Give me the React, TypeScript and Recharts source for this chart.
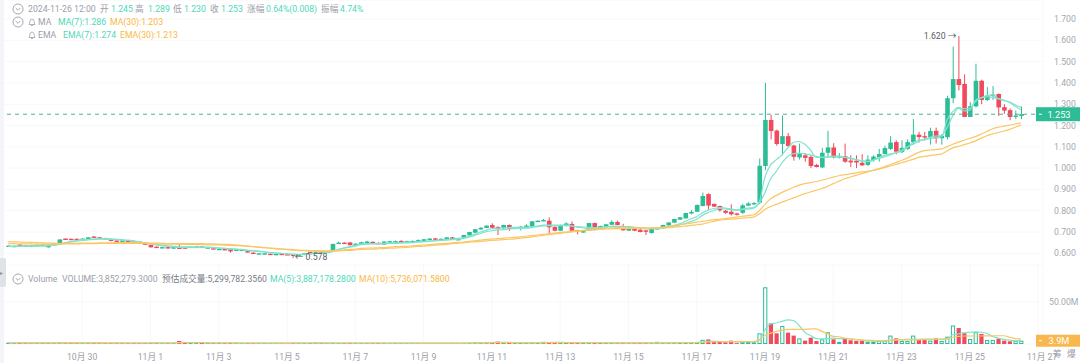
import React from 'react';
import { Bar, CartesianGrid, ComposedChart, Line, ReferenceDot, ReferenceLine, XAxis, YAxis } from 'recharts';

const FONT = "Roboto, 'Noto Sans CJK SC', sans-serif";
const FONT_SIZE = 8.7;
const GREEN = '#2dbd96';
const RED = '#f04a5d';
const TEAL_LINE = '#7fe3cd';
const ORANGE_LINE = '#fbc665';
const TEAL_TEXT = '#4fd8b8';
const ORANGE_TEXT = '#fbb73f';
const GREY_TEXT = '#9aa0a8';
const GRID = '#f7f8fa';

// 4h candles, one row of ten per line
const opens = [
  .633,.634,.641,.637,.630,.636,.641,.628,.640,.648,
  .669,.668,.668,.667,.667,.679,.675,.672,.667,.660,
  .658,.660,.657,.652,.646,.640,.631,.626,.629,.622,
  .627,.628,.627,.630,.632,.626,.624,.619,.620,.619,
  .611,.613,.610,.603,.598,.597,.598,.595,.598,.596,
  .594,.591,.592,.607,.600,.608,.604,.610,.644,.650,
  .651,.638,.641,.650,.654,.649,.641,.652,.652,.658,
  .652,.652,.656,.655,.664,.670,.664,.664,.675,.663,
  .673,.684,.697,.712,.719,.733,.724,.717,.733,.716,
  .723,.719,.725,.750,.753,.753,.724,.706,.730,.738,
  .709,.700,.706,.742,.712,.725,.734,.747,.725,.706,
  .720,.711,.708,.695,.712,.722,.731,.744,.758,.764,
  .787,.795,.822,.878,.832,.822,.800,.795,.787,.790,
  .824,.830,.838,1.01,1.226,1.176,1.113,1.15,1.106,1.05,
  1.06,1.053,1.015,1.003,1.072,1.097,1.05,1.056,1.035,1.035,
  1.025,1.015,1.038,1.05,1.066,1.09,1.122,1.075,1.09,1.122,
  1.157,1.15,1.145,1.175,1.14,1.145,1.328,1.418,1.395,1.24,
  1.29,1.41,1.32,1.34,1.348,1.286,1.272,1.243,1.245,
];
const closes = [
  .636,.635,.637,.631,.637,.640,.635,.640,.648,.665,
  .666,.665,.667,.669,.675,.675,.672,.667,.658,.657,
  .660,.657,.651,.646,.640,.628,.627,.629,.623,.631,
  .621,.624,.631,.632,.630,.628,.620,.621,.617,.609,
  .618,.617,.604,.600,.600,.600,.594,.597,.596,.594,
  .591,.593,.601,.603,.607,.604,.610,.644,.650,.648,
  .638,.645,.652,.655,.650,.646,.655,.657,.657,.652,
  .657,.658,.662,.666,.669,.664,.668,.675,.664,.667,
  .686,.700,.713,.720,.730,.720,.716,.733,.716,.722,
  .725,.730,.750,.753,.756,.722,.706,.733,.740,.706,
  .702,.704,.742,.710,.728,.736,.747,.733,.708,.720,
  .706,.700,.701,.717,.722,.733,.745,.761,.769,.789,
  .794,.827,.869,.824,.819,.802,.79,.783,.784,.825,
  .834,.836,1.011,1.226,1.174,1.113,1.15,1.104,1.053,1.068,
  1.048,1.01,1.005,1.072,1.097,1.05,1.056,1.03,1.027,1.026,
  1.013,1.04,1.054,1.066,1.094,1.12,1.077,1.095,1.122,1.157,
  1.146,1.148,1.174,1.14,1.152,1.328,1.418,1.39,1.24,1.29,
  1.41,1.32,1.34,1.345,1.285,1.27,1.24,1.247,1.253,
];
const highs = [
  .638,.637,.642,.638,.638,.641,.642,.641,.650,.666,
  .670,.669,.670,.671,.676,.680,.677,.673,.668,.661,
  .662,.661,.658,.653,.647,.641,.632,.631,.630,.632,
  .647,.630,.632,.634,.634,.630,.625,.623,.621,.621,
  .619,.618,.611,.605,.601,.601,.599,.598,.599,.597,
  .596,.595,.602,.608,.608,.609,.611,.645,.655,.652,
  .652,.648,.654,.659,.655,.651,.657,.659,.660,.662,
  .659,.660,.665,.667,.671,.672,.670,.676,.676,.669,
  .687,.701,.714,.723,.731,.741,.726,.734,.735,.724,
  .729,.736,.751,.755,.761,.769,.727,.735,.745,.749,
  .711,.707,.743,.744,.730,.737,.755,.753,.738,.722,
  .722,.713,.709,.718,.724,.734,.746,.762,.771,.790,
  .803,.829,.885,.882,.834,.824,.803,.83,.79,.832,
  .84,.84,1.045,1.4,1.25,1.18,1.247,1.165,1.11,1.115,
  1.07,1.06,1.02,1.095,1.175,1.117,1.07,1.115,1.06,1.06,
  1.065,1.06,1.06,1.09,1.105,1.15,1.13,1.13,1.135,1.23,
  1.17,1.17,1.19,1.19,1.16,1.34,1.57,1.62,1.44,1.31,
  1.49,1.415,1.38,1.385,1.35,1.3,1.28,1.27,1.289,
];
const lows = [
  .632,.632,.635,.630,.629,.635,.634,.627,.639,.647,
  .664,.664,.665,.666,.666,.674,.671,.665,.656,.655,
  .657,.655,.650,.645,.639,.627,.626,.625,.622,.621,
  .620,.623,.626,.629,.629,.625,.619,.618,.616,.603,
  .610,.612,.603,.598,.597,.596,.593,.594,.595,.593,
  .578,.588,.591,.602,.599,.603,.603,.609,.643,.646,
  .637,.637,.640,.649,.648,.644,.640,.651,.650,.648,
  .651,.651,.654,.654,.662,.663,.663,.663,.663,.662,
  .672,.683,.696,.711,.718,.719,.686,.716,.705,.714,
  .707,.718,.724,.749,.752,.691,.703,.705,.725,.701,
  .689,.696,.705,.708,.711,.724,.733,.732,.706,.705,
  .704,.698,.686,.693,.711,.721,.730,.743,.757,.763,
  .783,.794,.821,.803,.818,.795,.785,.777,.777,.785,
  .822,.828,.83,.99,1.135,1.105,1.06,1.10,1.035,1.04,
  1.03,1.00,1.003,1.0,1.05,1.045,1.045,1.025,1.005,1.0,
  1.01,1.01,1.03,1.03,1.065,1.085,1.065,1.07,1.085,1.11,
  1.12,1.13,1.11,1.115,1.11,1.135,1.305,1.365,1.24,1.24,
  1.285,1.30,1.315,1.32,1.245,1.255,1.225,1.23,1.23,
];
const ma7 = [
  .633,.633,.634,.634,.634,.635,.635,.636,.638,.642,
  .649,.655,.660,.664,.666,.667,.669,.669,.668,.666,
  .664,.662,.659,.655,.650,.645,.640,.636,.633,.630,
  .628,.628,.628,.628,.629,.628,.627,.625,.623,.621,
  .619,.617,.614,.611,.609,.606,.603,.601,.599,.597,
  .595,.594,.595,.597,.599,.601,.604,.611,.618,.625,
  .631,.637,.644,.645,.645,.646,.647,.648,.649,.650,
  .651,.652,.654,.656,.658,.660,.662,.665,.667,.670,
  .673,.680,.690,.700,.708,.716,.718,.720,.721,.722,
  .722,.722,.724,.728,.732,.733,.733,.733,.732,.729,
  .723,.720,.718,.716,.718,.722,.727,.727,.726,.725,
  .722,.719,.715,.716,.717,.720,.725,.731,.738,.750,
  .762,.772,.790,.803,.810,.815,.812,.808,.804,.808,
  .812,.815,.842,.959,1.015,1.04,1.062,1.095,1.12,1.125,
  1.112,1.085,1.05,1.05,1.053,1.056,1.056,1.052,1.047,1.04,
  1.034,1.03,1.038,1.05,1.06,1.067,1.072,1.078,1.095,1.12,
  1.13,1.134,1.138,1.142,1.146,1.226,1.265,1.285,1.278,1.28,
  1.312,1.33,1.34,1.344,1.325,1.318,1.31,1.296,1.286,
];
const ema7 = [
  .633,.633,.633,.634,.634,.634,.635,.636,.638,.643,
  .648,.653,.657,.660,.663,.665,.666,.666,.665,.664,
  .662,.660,.657,.653,.649,.645,.641,.638,.635,.633,
  .631,.630,.630,.629,.629,.628,.627,.625,.623,.621,
  .620,.618,.615,.612,.610,.607,.605,.602,.600,.598,
  .596,.595,.596,.597,.599,.600,.602,.608,.618,.624,
  .629,.634,.641,.643,.644,.644,.645,.646,.647,.648,
  .649,.650,.652,.654,.656,.658,.660,.662,.664,.666,
  .670,.676,.684,.693,.701,.706,.709,.711,.714,.716,
  .717,.718,.721,.725,.729,.730,.729,.730,.731,.728,
  .725,.723,.722,.721,.722,.724,.726,.727,.725,.724,
  .722,.720,.717,.716,.716,.718,.722,.727,.733,.740,
  .749,.760,.778,.791,.800,.811,.808,.805,.802,.805,
  .808,.812,.835,.885,.95,.985,1.025,1.055,1.068,1.07,
  1.067,1.062,1.055,1.05,1.052,1.053,1.052,1.05,1.045,1.04,
  1.034,1.032,1.036,1.045,1.053,1.062,1.073,1.085,1.1,1.112,
  1.125,1.135,1.145,1.15,1.152,1.19,1.245,1.28,1.268,1.272,
  1.318,1.33,1.334,1.332,1.326,1.318,1.308,1.29,1.274,
];
const ma30 = [
  .655,.654,.653,.652,.651,.650,.649,.648,.647,.647,
  .647,.647,.647,.648,.648,.648,.649,.649,.649,.650,
  .650,.650,.650,.650,.649,.648,.648,.647,.646,.645,
  .645,.645,.645,.645,.645,.644,.644,.643,.642,.641,
  .639,.637,.635,.632,.629,.626,.624,.621,.619,.617,
  .615,.613,.612,.611,.610,.609,.609,.610,.611,.613,
  .614,.616,.618,.619,.620,.621,.622,.624,.625,.626,
  .628,.630,.632,.634,.636,.638,.640,.642,.645,.647,
  .650,.652,.654,.656,.658,.660,.662,.664,.666,.668,
  .671,.674,.677,.681,.684,.688,.691,.694,.697,.700,
  .703,.706,.708,.710,.712,.714,.715,.716,.716,.717,
  .717,.717,.717,.718,.718,.719,.721,.723,.725,.728,
  .731,.734,.737,.744,.750,.756,.758,.760,.762,.765,
  .767,.770,.785,.806,.82,.83,.84,.85,.86,.87,
  .88,.888,.896,.904,.915,.927,.938,.95,.958,.966,
  .974,.982,.989,.995,1.002,1.01,1.017,1.025,1.033,1.041,
  1.05,1.055,1.059,1.062,1.066,1.08,1.095,1.102,1.11,1.118,
  1.128,1.14,1.152,1.16,1.167,1.174,1.182,1.192,1.203,
];
const ema30 = [
  .645,.645,.644,.644,.644,.643,.643,.643,.643,.643,
  .644,.644,.644,.645,.645,.645,.646,.646,.646,.646,
  .647,.646,.646,.646,.645,.645,.644,.644,.643,.643,
  .642,.642,.642,.641,.641,.640,.640,.639,.638,.637,
  .636,.635,.633,.631,.629,.627,.625,.623,.621,.619,
  .617,.615,.614,.613,.613,.612,.612,.613,.614,.616,
  .618,.620,.623,.624,.625,.626,.627,.629,.631,.632,
  .633,.635,.637,.639,.641,.643,.645,.647,.649,.651,
  .653,.656,.659,.662,.665,.667,.669,.671,.673,.675,
  .677,.680,.683,.686,.689,.692,.695,.698,.700,.703,
  .706,.708,.711,.714,.716,.718,.720,.721,.721,.721,
  .720,.720,.720,.720,.721,.723,.725,.730,.734,.738,
  .742,.746,.750,.754,.758,.760,.763,.766,.770,.774,
  .777,.78,.80,.83,.856,.872,.886,.898,.91,.92,
  .927,.932,.937,.943,.95,.958,.964,.969,.973,.978,
  .982,.985,.99,.998,1.006,1.016,1.026,1.036,1.047,1.061,
  1.074,1.082,1.085,1.087,1.09,1.101,1.112,1.122,1.131,1.14,
  1.148,1.16,1.172,1.185,1.192,1.197,1.202,1.207,1.213,
];
// volumes in millions
const volumes = [
  1.6,1.2,1.4,1.3,1.2,1.5,1.2,1.6,1.3,1.7,
  1.4,1.2,1.3,1.2,1.4,1.2,1.1,1.3,1.2,1.1,
  1.2,1.1,1.3,1.2,1.3,1.4,1.2,1.1,1.2,1.4,
  3.6,1.5,1.2,1.1,1.3,1.2,1.1,1.2,1.1,1.4,
  1.3,1.1,1.2,1.1,1.2,1.1,1.2,1.1,1.1,1.2,
  1.2,1.3,1.4,1.2,1.3,1.2,1.1,1.4,1.2,1.1,
  1.3,1.2,1.1,1.2,1.1,1.2,1.2,1.1,1.2,1.1,
  1.2,1.1,1.2,1.1,1.1,1.2,1.1,1.2,1.2,1.1,
  1.3,1.2,2.4,1.6,2.3,1.7,2.8,1.6,1.5,1.2,
  1.3,1.2,1.5,2.4,2.6,1.7,1.8,1.5,1.6,1.7,
  1.6,1.3,1.8,1.5,1.3,1.2,1.3,1.2,1.4,1.2,
  1.3,1.4,1.3,1.4,2.6,1.2,1.4,1.9,2.2,2.0,
  1.8,2.4,5.0,5.4,3.5,2.8,2.0,4.0,1.0,3.2,
  3.2,2,12.7,67.5,24.6,12.7,21.4,13.5,10,6.7,
  4,7.5,3.6,5.6,14,5.6,2.4,6,4.4,3.6,
  3.6,2.8,2.8,3.6,4,10,6.7,3.6,3.6,10,
  4.8,4.8,4,6.7,3.6,8.7,22,19,12.7,6,
  14,12,4.8,4.8,6.4,4,3.2,3.6,3.9,
];
const volMa5 = [
  1.4,1.4,1.4,1.4,1.4,1.4,1.3,1.4,1.4,1.4,
  1.4,1.4,1.4,1.4,1.3,1.3,1.3,1.2,1.2,1.2,
  1.2,1.2,1.2,1.2,1.2,1.2,1.3,1.3,1.2,1.2,
  1.7,1.8,1.8,1.8,1.8,1.3,1.2,1.2,1.2,1.2,
  1.2,1.2,1.2,1.2,1.2,1.2,1.1,1.1,1.1,1.1,
  1.2,1.2,1.2,1.2,1.3,1.3,1.2,1.2,1.2,1.2,
  1.2,1.2,1.2,1.2,1.2,1.2,1.2,1.1,1.2,1.1,
  1.2,1.1,1.1,1.1,1.1,1.1,1.1,1.1,1.1,1.1,
  1.2,1.2,1.4,1.5,1.7,1.8,2.0,1.9,1.9,1.7,
  1.5,1.4,1.3,1.5,1.7,1.8,2.0,1.9,1.8,1.7,
  1.6,1.5,1.5,1.6,1.5,1.4,1.4,1.3,1.3,1.2,
  1.3,1.3,1.3,1.3,1.6,1.5,1.5,1.5,1.7,1.7,
  1.7,1.8,2.4,3.1,3.3,3,2.8,2.7,2.6,2.6,
  2.8,2.8,4.5,17,24,25,27,28.6,28,22,
  14,10,6.5,6,6.5,7,6.5,6.5,6,5,
  4.2,4,3.4,3.4,3.4,4,5,5.2,5.4,5.8,
  5.6,5.8,5.8,5.8,5.8,5.8,11,12,13.5,14,
  14.5,14,12.5,9,7,5.5,4.5,3.8,3.9,
];
const volMa10 = [
  1.5,1.5,1.5,1.4,1.4,1.4,1.4,1.4,1.4,1.4,
  1.4,1.4,1.4,1.4,1.4,1.3,1.3,1.3,1.3,1.3,
  1.3,1.2,1.2,1.2,1.2,1.2,1.2,1.2,1.2,1.2,
  1.5,1.5,1.5,1.5,1.5,1.5,1.5,1.5,1.5,1.5,
  1.3,1.2,1.2,1.2,1.2,1.2,1.2,1.2,1.2,1.1,
  1.2,1.2,1.2,1.2,1.2,1.2,1.2,1.2,1.2,1.2,
  1.2,1.2,1.2,1.2,1.2,1.2,1.2,1.2,1.2,1.2,
  1.2,1.2,1.2,1.1,1.1,1.1,1.1,1.1,1.1,1.1,
  1.1,1.2,1.3,1.3,1.4,1.4,1.6,1.6,1.7,1.7,
  1.7,1.7,1.7,1.7,1.7,1.6,1.7,1.7,1.7,1.7,
  1.7,1.7,1.7,1.7,1.7,1.6,1.5,1.4,1.4,1.4,
  1.3,1.3,1.3,1.3,1.4,1.4,1.4,1.4,1.5,1.5,
  1.6,1.6,2.0,2.4,2.6,2.7,2.7,2.8,2.8,2.8,
  2.7,2.8,5,10,13,15,16.5,17.5,17.5,17.5,
  17.5,18,18,15,12,9,8.6,7,6,5.5,
  5,4.4,4.2,4,4,4.6,4.8,4.8,5,5,
  5,5.2,5.2,5.4,5.6,6,8,9,9.5,9.5,
  9.5,9.5,9.6,9.6,9.8,9.8,8,6.5,5.74,
];

const dateTicks = [13, 25, 37, 49, 61, 73, 85, 97, 109, 121, 133, 145, 157, 169, 181];
const dateLabels = ['10月 30', '11月 1', '11月 3', '11月 5', '11月 7', '11月 9', '11月 11', '11月 13', '11月 15', '11月 17', '11月 19', '11月 21', '11月 23', '11月 25', '11月 27'];
const priceTicks = [0.6, 0.7, 0.8, 0.9, 1.0, 1.1, 1.2, 1.3, 1.4, 1.5, 1.6, 1.7];
const volumeTicks = [50];

const LAST_PRICE = 1.253;
const LAST_VOLUME = 3.9;
const HIGH_INDEX = 167;
const HIGH_PRICE = 1.62;
const LOW_INDEX = 50;
const LOW_PRICE = 0.578;

const rows = opens.map((open, i) => ({
  i,
  open,
  close: closes[i],
  high: highs[i],
  low: lows[i],
  range: [lows[i], highs[i]],
  ma7: ma7[i],
  ema7: ema7[i],
  ma30: ma30[i],
  ema30: ema30[i],
  volume: volumes[i],
  volMa5: volMa5[i],
  volMa10: volMa10[i],
}));

const xDomain: [number, number] = [-1.44, 181.86];

const Candle = (props: any) => {
  const { x, y, width, height, payload } = props;
  const { open, close, high, low } = payload;
  const color = close >= open ? GREEN : RED;
  const perUnit = height / (high - low || 1);
  const bodyTop = y + (high - Math.max(open, close)) * perUnit;
  const bodyHeight = Math.max(Math.abs(open - close) * perUnit, 1.4);
  const mid = x + width / 2;
  return (
    <g>
      <line x1={mid} x2={mid} y1={y} y2={y + height} stroke={color} strokeWidth={1} />
      <rect x={x} y={bodyTop} width={width} height={bodyHeight} fill={color} />
    </g>
  );
};

const VolumeBar = (props: any) => {
  const { x, y, width, height, payload } = props;
  const up = payload.close >= payload.open;
  // short up bars close up into a solid dash
  if (up && height > 3) {
    return <rect x={x + 0.5} y={y + 0.5} width={Math.max(width - 1, 0)} height={height - 1} fill="#fff" stroke={GREEN} strokeWidth={1} />;
  }
  return <rect x={x} y={y} width={width} height={height} fill={up ? GREEN : RED} />;
};

const LastTag = (props: any) => {
  const { viewBox, text, fill, boxHeight } = props;
  const left = viewBox.x + viewBox.width - 7;
  return (
    <g>
      <rect x={left} y={viewBox.y - boxHeight / 2} width={44} height={boxHeight} fill={fill} />
      <line x1={left + 3} x2={left + 6} y1={viewBox.y} y2={viewBox.y} stroke="#fff" />
      <text x={left + 23} y={viewBox.y + 3.5} textAnchor="middle" fill="#fff" fontSize={9.2} fontFamily={FONT}>{text}</text>
    </g>
  );
};

const HighMark = (props: any) => (
  <text x={props.cx - 2} y={props.cy + 3} textAnchor="end" fill="#555c66" fontSize={FONT_SIZE} fontFamily={FONT}>{HIGH_PRICE.toFixed(3)} →</text>
);
const LowMark = (props: any) => (
  <text x={props.cx + 2} y={props.cy + 2} textAnchor="start" fill="#555c66" fontSize={FONT_SIZE} fontFamily={FONT}>← {LOW_PRICE.toFixed(3)}</text>
);

const DateTick = (props: any) => {
  const { x, y, payload } = props;
  // the last label sits a little right of its tick in the original
  const shift = payload.value === dateTicks[dateTicks.length - 1] ? 4 : 0;
  return (
    <text x={x + shift} y={y + 8} textAnchor="middle" fill={GREY_TEXT} fontSize={FONT_SIZE} fontFamily={FONT}>
      {dateLabels[dateTicks.indexOf(payload.value)]}
    </text>
  );
};

const Chevron = ({ x, y }: { x: number; y: number }) => (
  <svg style={{ position: 'absolute', left: x - 6, top: y - 6 }} width={12} height={12}>
    <circle cx={6} cy={6} r={5} fill="#fff" stroke="#a4a9b0" />
    <path d="M3.7 5 L6 7.3 L8.3 5" fill="none" stroke="#a4a9b0" />
  </svg>
);

const BellIcon = ({ x, y }: { x: number; y: number }) => (
  <svg style={{ position: 'absolute', left: x - 5, top: y - 5 }} width={10} height={10}>
    <path d="M2 7.5 C3 6.5 2.5 2 5 2 C7.5 2 7 6.5 8 7.5 Z M4 8.5 L6 8.5" fill="none" stroke="#9aa0a8" strokeWidth={0.8} />
  </svg>
);

const Label = ({ x, y, color = GREY_TEXT, text }: { x: number; y: number; color?: string; text: string }) => (
  <span style={{ position: 'absolute', left: x, top: y - 6, lineHeight: '12px', fontSize: FONT_SIZE, color, whiteSpace: 'nowrap' }}>{text}</span>
);

const headerRow: [number, string, string][] = [
  [28, '2024-11-26 12:00', GREY_TEXT],
  [100, '开', GREY_TEXT], [111, '1.245', TEAL_TEXT],
  [135, '高', GREY_TEXT], [148, '1.289', TEAL_TEXT],
  [173, '低', GREY_TEXT], [184, '1.230', TEAL_TEXT],
  [210, '收', GREY_TEXT], [221, '1.253', TEAL_TEXT],
  [247, '涨幅', GREY_TEXT], [266, '0.64%(0.008)', TEAL_TEXT],
  [321, '振幅', GREY_TEXT], [340, '4.74%', TEAL_TEXT],
];
const maRow: [number, string, string][] = [
  [38, 'MA', GREY_TEXT], [58, 'MA(7):1.286', TEAL_TEXT], [110, 'MA(30):1.203', ORANGE_TEXT],
];
const emaRow: [number, string, string][] = [
  [38, 'EMA', GREY_TEXT], [63, 'EMA(7):1.274', TEAL_TEXT], [120, 'EMA(30):1.213', ORANGE_TEXT],
];
const volumeRow: [number, string, string][] = [
  [28, 'Volume', GREY_TEXT], [62, 'VOLUME:3,852,279.3000', GREY_TEXT],
  [162, '预估成交量:5,299,782.3560', '#777d86'],
  [270, 'MA(5):3,887,178.2800', TEAL_TEXT], [359, 'MA(10):5,736,071.5800', ORANGE_TEXT],
];

const lineProps = { type: 'monotone' as const, dot: false, strokeWidth: 1.2, isAnimationActive: false };

export default function App() {
  return (
    <div style={{ position: 'absolute', left: 0, top: 0, width: 1080, height: 363, background: '#fff', overflow: 'hidden', fontFamily: FONT }}>
      <div style={{ position: 'absolute', left: 0, top: 0 }}>
        <ComposedChart width={1080} height={265} data={rows} margin={{ top: 0, right: 0, bottom: 0, left: 0 }}>
          <CartesianGrid stroke={GRID} />
          <XAxis dataKey="i" type="number" domain={xDomain} ticks={dateTicks} height={0} tick={false} axisLine={false} tickLine={false} allowDataOverflow />
          <YAxis orientation="right" width={37} domain={[0.5451, 1.7892]} ticks={priceTicks} interval={0} tickFormatter={(v: number) => v.toFixed(3)} tick={{ fontSize: FONT_SIZE, fill: '#a4a9b0', fontFamily: FONT }} tickLine={false} axisLine={false} tickMargin={5} allowDataOverflow />
          <Bar dataKey="range" barSize={4.6} shape={Candle} isAnimationActive={false} />
          <Line dataKey="ma7" stroke={TEAL_LINE} {...lineProps} />
          <Line dataKey="ema7" stroke={TEAL_LINE} {...lineProps} />
          <Line dataKey="ma30" stroke={ORANGE_LINE} {...lineProps} />
          <Line dataKey="ema30" stroke={ORANGE_LINE} {...lineProps} />
          <ReferenceLine y={LAST_PRICE} stroke="#4fae95" strokeDasharray="4 4" label={<LastTag text={LAST_PRICE.toFixed(3)} fill={GREEN} boxHeight={14} />} />
          <ReferenceDot x={HIGH_INDEX} y={HIGH_PRICE} r={0} shape={HighMark} ifOverflow="visible" />
          <ReferenceDot x={LOW_INDEX} y={LOW_PRICE} r={0} shape={LowMark} ifOverflow="visible" />
        </ComposedChart>
      </div>
      <div style={{ position: 'absolute', left: 0, top: 265 }}>
        <ComposedChart width={1080} height={98} data={rows} margin={{ top: 0, right: 0, bottom: 0, left: 0 }}>
          <CartesianGrid stroke={GRID} />
          <XAxis dataKey="i" type="number" domain={xDomain} ticks={dateTicks} interval={0} height={19} tick={DateTick} tickLine={false} axisLine={false} allowDataOverflow />
          <YAxis orientation="right" width={37} domain={[0, 94]} ticks={volumeTicks} tickFormatter={(v: number) => `${v.toFixed(2)}M`} tick={{ fontSize: FONT_SIZE, fill: '#a4a9b0', fontFamily: FONT }} tickLine={false} axisLine={false} tickMargin={0} allowDataOverflow />
          <Bar dataKey="volume" barSize={4.2} shape={VolumeBar} isAnimationActive={false} />
          <Line dataKey="volMa5" stroke={TEAL_LINE} {...lineProps} />
          <Line dataKey="volMa10" stroke={ORANGE_LINE} {...lineProps} />
          <ReferenceLine y={LAST_VOLUME} stroke="none" label={<LastTag text={`${LAST_VOLUME.toFixed(1)}M`} fill="#f8b84e" boxHeight={12} />} />
        </ComposedChart>
      </div>

      <div style={{ position: 'absolute', left: 0, top: 0, width: 4, height: 363, background: '#f3f5f8' }} />
      <div style={{ position: 'absolute', left: 0, top: 258, width: 6, height: 29, background: '#dfe3e8', borderRadius: '0 2px 2px 0', color: '#8a9099', fontSize: 6, lineHeight: '29px' }}>▸</div>

      <Chevron x={18} y={9} />
      <Chevron x={18} y={22} />
      <Chevron x={18} y={279} />
      <BellIcon x={32} y={21.5} />
      <BellIcon x={32} y={34.5} />
      {headerRow.map(([x, text, color]) => <Label key={x} x={x} y={8.5} text={text} color={color} />)}
      {maRow.map(([x, text, color]) => <Label key={x} x={x} y={21.5} text={text} color={color} />)}
      {emaRow.map(([x, text, color]) => <Label key={x} x={x} y={34.5} text={text} color={color} />)}
      {volumeRow.map(([x, text, color]) => <Label key={x} x={x} y={279} text={text} color={color} />)}
      <Label x={1053} y={354} text="筹" />
      <Label x={1067} y={354} text="爆" />
    </div>
  );
}
